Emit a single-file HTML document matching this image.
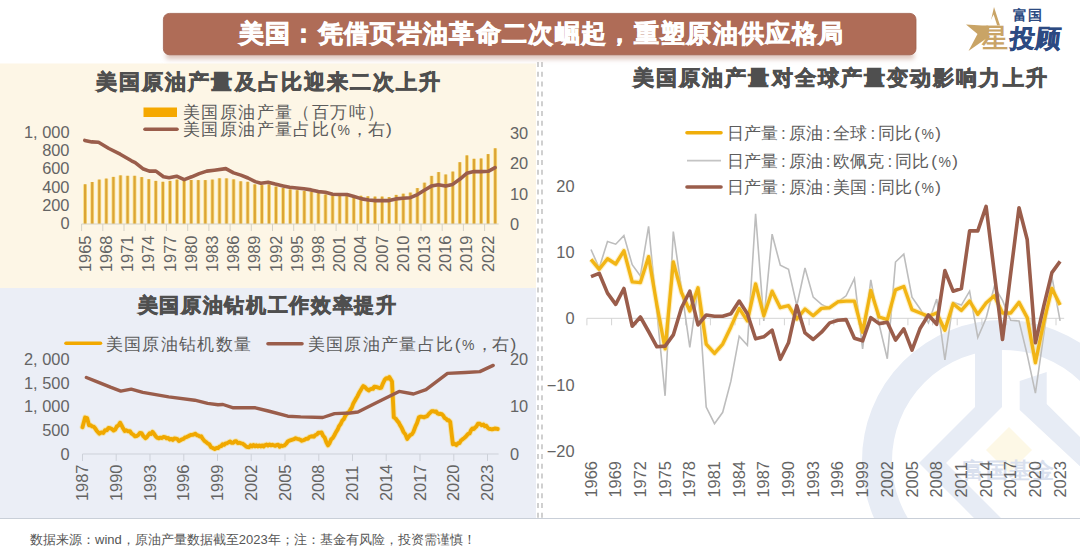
<!DOCTYPE html>
<html><head><meta charset="utf-8">
<style>
html,body{margin:0;padding:0;}
body{width:1080px;height:558px;overflow:hidden;position:relative;background:#fff;font-family:'Liberation Sans', sans-serif;}
.abs{position:absolute;}
svg text{font-family:'Liberation Sans', sans-serif;}
.ax{font-size:16.4px;fill:#646464;}
.ttl{font-size:21px;font-weight:700;fill:#4f4f4f;stroke:#4f4f4f;stroke-width:0.75px;letter-spacing:2.1px;}
.lg{font-size:17.4px;letter-spacing:1.4px;fill:#5c5c5c;}
.lg3{font-size:17px;fill:#5c5c5c;}
</style></head><body>
<svg class="abs" style="left:0;top:0" width="1080" height="558" viewBox="0 0 1080 558">
<defs>
<linearGradient id="hdrsh" x1="0" y1="0" x2="0" y2="1">
<stop offset="0" stop-color="#f3d9cf"/><stop offset="1" stop-color="#fff" stop-opacity="0"/>
</linearGradient>
<filter id="blur3" x="-5%" y="-200%" width="110%" height="500%"><feGaussianBlur stdDeviation="2.5"/></filter>
</defs>
<rect x="0" y="63.5" width="536" height="224.5" fill="#fdf6e6"/>
<rect x="0" y="288" width="536" height="230" fill="#ebeef6"/>
<line x1="0" y1="518.5" x2="1080" y2="518.5" stroke="#c9cfd8" stroke-width="1"/>
<line x1="538" y1="62" x2="538" y2="518" stroke="#a9a9a9" stroke-width="1.1" stroke-dasharray="5,4.8"/>
<line x1="542" y1="62" x2="542" y2="518" stroke="#a9a9a9" stroke-width="1.1" stroke-dasharray="5,4.8"/>
<!-- watermark -->
<clipPath id="wm"><rect x="541" y="62" width="539" height="456"/></clipPath>
<g clip-path="url(#wm)" fill="#e7ecf5">
<circle cx="1003" cy="461" r="126" fill="none" stroke="#e7ecf5" stroke-width="30"/>
<polygon points="975,330 1002,330 1002,407 946,463 1004,521 977,521 919,463 975,407"/>
<polygon points="1019.7,381 1046.7,372 1046.7,404 1100,457 1100,485 1019.7,410"/>
<polygon points="1009,427 1032,450 1009,473 986,450" fill="#fdf8e6"/>
<text x="963" y="478" style="font-size:22px;font-weight:700;fill:#d9e0ee;letter-spacing:1px;">富国基金</text>
</g>
<!-- header bar -->
<rect x="166" y="52" width="748" height="7" fill="#dcc3ba" filter="url(#blur3)"/>
<rect x="163.4" y="13.4" width="752.6" height="41.4" rx="6" fill="#af6c57" stroke="#a0604c" stroke-width="0.8"/>
<text x="238.5" y="42.3" style="font-size:24.6px;font-weight:700;fill:#fff;stroke:#fff;stroke-width:0.8px;letter-spacing:1.35px;">美国：凭借页岩油革命二次崛起，重塑原油供应格局</text>
<!-- logo -->
<polygon points="994,7 1000,25.5 982,25.5 966,24.5 977.5,34 968.5,51 987,38" fill="#c9a466"/>
<polygon points="993.6,14.5 988,25.6 997.2,25.6" fill="#fff"/>
<text x="981.5" y="46.8" style="font-size:25.5px;font-weight:700;fill:#c9a466;">星</text>
<text x="1012.5" y="20.3" style="font-size:14px;font-weight:700;fill:#2c4a82;letter-spacing:1.5px;">富国</text>
<text transform="translate(1008.5,46.8) skewX(-7)" style="font-size:25px;font-weight:700;fill:#2c4a82;stroke:#2c4a82;stroke-width:0.5px;letter-spacing:1.5px;">投顾</text>
<!-- titles -->
<text x="96" y="88.6" class="ttl">美国原油产量及占比迎来二次上升</text>
<text x="137.5" y="312.3" class="ttl" style="font-size:20px;letter-spacing:1.7px">美国原油钻机工作效率提升</text>
<text x="633" y="85" class="ttl">美国原油产量对全球产量变动影响力上升</text>
<!-- legend 1 -->
<rect x="143.5" y="107.5" width="33.5" height="9.5" fill="#f5a800"/>
<line x1="145" y1="129.3" x2="177" y2="129.3" stroke="#9a5d4b" stroke-width="3.6" stroke-linecap="round"/>
<text x="183" y="117.8" class="lg">美国原油产量（百万吨）</text>
<text x="183" y="135.3" class="lg">美国原油产量占比(<tspan style="font-size:14px">%</tspan>，<tspan dx="-2">右</tspan>)</text>
<!-- legend 2 -->
<line x1="66" y1="343.3" x2="100.5" y2="343.3" stroke="#f2a900" stroke-width="3.6" stroke-linecap="round"/>
<text x="105.5" y="349.5" class="lg">美国原油钻机数量</text>
<line x1="268" y1="343.8" x2="302" y2="343.8" stroke="#9a5d4b" stroke-width="3.6" stroke-linecap="round"/>
<text x="307.5" y="349.5" class="lg">美国原油产量占比(<tspan style="font-size:14px">%</tspan>，<tspan dx="-2">右</tspan>)</text>
<!-- legend 3 -->
<line x1="687" y1="132.8" x2="721" y2="132.8" stroke="#f0ae0a" stroke-width="3.6" stroke-linecap="round"/>
<line x1="687" y1="160.6" x2="721" y2="160.6" stroke="#c4c4c4" stroke-width="1.6"/>
<line x1="687" y1="187" x2="721" y2="187" stroke="#9a5d4b" stroke-width="3.6" stroke-linecap="round"/>
<text x="727" y="139" class="lg3">日产量<tspan dx="3">:</tspan><tspan dx="3">原油</tspan><tspan dx="3">:</tspan><tspan dx="3">全球</tspan><tspan dx="3">:</tspan><tspan dx="3">同比</tspan><tspan dx="2">(</tspan><tspan dx="1.5" style="font-size:14px">%</tspan><tspan dx="1.5">)</tspan></text>
<text x="727" y="166.5" class="lg3">日产量<tspan dx="3">:</tspan><tspan dx="3">原油</tspan><tspan dx="3">:</tspan><tspan dx="3">欧佩克</tspan><tspan dx="3">:</tspan><tspan dx="3">同比</tspan><tspan dx="2">(</tspan><tspan dx="1.5" style="font-size:14px">%</tspan><tspan dx="1.5">)</tspan></text>
<text x="727" y="193" class="lg3">日产量<tspan dx="3">:</tspan><tspan dx="3">原油</tspan><tspan dx="3">:</tspan><tspan dx="3">美国</tspan><tspan dx="3">:</tspan><tspan dx="3">同比</tspan><tspan dx="2">(</tspan><tspan dx="1.5" style="font-size:14px">%</tspan><tspan dx="1.5">)</tspan></text>
<rect x="83.2" y="184.3" width="3.8" height="39.7" fill="#f7dd80"/>
<rect x="84" y="184.3" width="2.2" height="39.7" fill="#dca436"/>
<rect x="90.3" y="182" width="3.8" height="42" fill="#f7dd80"/>
<rect x="91.1" y="182" width="2.2" height="42" fill="#dca436"/>
<rect x="97.4" y="179.6" width="3.8" height="44.4" fill="#f7dd80"/>
<rect x="98.2" y="179.6" width="2.2" height="44.4" fill="#dca436"/>
<rect x="104.4" y="178.6" width="3.8" height="45.4" fill="#f7dd80"/>
<rect x="105.2" y="178.6" width="2.2" height="45.4" fill="#dca436"/>
<rect x="111.5" y="176.9" width="3.8" height="47.1" fill="#f7dd80"/>
<rect x="112.3" y="176.9" width="2.2" height="47.1" fill="#dca436"/>
<rect x="118.6" y="175.4" width="3.8" height="48.6" fill="#f7dd80"/>
<rect x="119.4" y="175.4" width="2.2" height="48.6" fill="#dca436"/>
<rect x="125.7" y="175.8" width="3.8" height="48.2" fill="#f7dd80"/>
<rect x="126.5" y="175.8" width="2.2" height="48.2" fill="#dca436"/>
<rect x="132.7" y="175.8" width="3.8" height="48.2" fill="#f7dd80"/>
<rect x="133.5" y="175.8" width="2.2" height="48.2" fill="#dca436"/>
<rect x="139.8" y="177.1" width="3.8" height="46.9" fill="#f7dd80"/>
<rect x="140.6" y="177.1" width="2.2" height="46.9" fill="#dca436"/>
<rect x="146.9" y="179.2" width="3.8" height="44.8" fill="#f7dd80"/>
<rect x="147.7" y="179.2" width="2.2" height="44.8" fill="#dca436"/>
<rect x="153.9" y="180.9" width="3.8" height="43.1" fill="#f7dd80"/>
<rect x="154.7" y="180.9" width="2.2" height="43.1" fill="#dca436"/>
<rect x="161" y="181.8" width="3.8" height="42.2" fill="#f7dd80"/>
<rect x="161.8" y="181.8" width="2.2" height="42.2" fill="#dca436"/>
<rect x="168.1" y="180.9" width="3.8" height="43.1" fill="#f7dd80"/>
<rect x="168.9" y="180.9" width="2.2" height="43.1" fill="#dca436"/>
<rect x="175.1" y="179.6" width="3.8" height="44.4" fill="#f7dd80"/>
<rect x="175.9" y="179.6" width="2.2" height="44.4" fill="#dca436"/>
<rect x="182.2" y="180.5" width="3.8" height="43.5" fill="#f7dd80"/>
<rect x="183" y="180.5" width="2.2" height="43.5" fill="#dca436"/>
<rect x="189.3" y="180" width="3.8" height="44" fill="#f7dd80"/>
<rect x="190.1" y="180" width="2.2" height="44" fill="#dca436"/>
<rect x="196.4" y="180.1" width="3.8" height="43.9" fill="#f7dd80"/>
<rect x="197.2" y="180.1" width="2.2" height="43.9" fill="#dca436"/>
<rect x="203.4" y="180.1" width="3.8" height="43.9" fill="#f7dd80"/>
<rect x="204.2" y="180.1" width="2.2" height="43.9" fill="#dca436"/>
<rect x="210.5" y="179.6" width="3.8" height="44.4" fill="#f7dd80"/>
<rect x="211.3" y="179.6" width="2.2" height="44.4" fill="#dca436"/>
<rect x="217.6" y="178.3" width="3.8" height="45.7" fill="#f7dd80"/>
<rect x="218.4" y="178.3" width="2.2" height="45.7" fill="#dca436"/>
<rect x="224.6" y="178.4" width="3.8" height="45.6" fill="#f7dd80"/>
<rect x="225.4" y="178.4" width="2.2" height="45.6" fill="#dca436"/>
<rect x="231.7" y="179.4" width="3.8" height="44.6" fill="#f7dd80"/>
<rect x="232.5" y="179.4" width="2.2" height="44.6" fill="#dca436"/>
<rect x="238.8" y="181.3" width="3.8" height="42.7" fill="#f7dd80"/>
<rect x="239.6" y="181.3" width="2.2" height="42.7" fill="#dca436"/>
<rect x="245.8" y="181.8" width="3.8" height="42.2" fill="#f7dd80"/>
<rect x="246.6" y="181.8" width="2.2" height="42.2" fill="#dca436"/>
<rect x="252.9" y="184.4" width="3.8" height="39.6" fill="#f7dd80"/>
<rect x="253.7" y="184.4" width="2.2" height="39.6" fill="#dca436"/>
<rect x="260" y="185.1" width="3.8" height="38.9" fill="#f7dd80"/>
<rect x="260.8" y="185.1" width="2.2" height="38.9" fill="#dca436"/>
<rect x="267.1" y="184.4" width="3.8" height="39.6" fill="#f7dd80"/>
<rect x="267.9" y="184.4" width="2.2" height="39.6" fill="#dca436"/>
<rect x="274.1" y="186.6" width="3.8" height="37.4" fill="#f7dd80"/>
<rect x="274.9" y="186.6" width="2.2" height="37.4" fill="#dca436"/>
<rect x="281.2" y="188" width="3.8" height="36" fill="#f7dd80"/>
<rect x="282" y="188" width="2.2" height="36" fill="#dca436"/>
<rect x="288.3" y="189.4" width="3.8" height="34.6" fill="#f7dd80"/>
<rect x="289.1" y="189.4" width="2.2" height="34.6" fill="#dca436"/>
<rect x="295.3" y="190.2" width="3.8" height="33.8" fill="#f7dd80"/>
<rect x="296.1" y="190.2" width="2.2" height="33.8" fill="#dca436"/>
<rect x="302.4" y="190.9" width="3.8" height="33.1" fill="#f7dd80"/>
<rect x="303.2" y="190.9" width="2.2" height="33.1" fill="#dca436"/>
<rect x="309.5" y="191.6" width="3.8" height="32.4" fill="#f7dd80"/>
<rect x="310.3" y="191.6" width="2.2" height="32.4" fill="#dca436"/>
<rect x="316.5" y="193" width="3.8" height="31" fill="#f7dd80"/>
<rect x="317.3" y="193" width="2.2" height="31" fill="#dca436"/>
<rect x="323.6" y="194.5" width="3.8" height="29.5" fill="#f7dd80"/>
<rect x="324.4" y="194.5" width="2.2" height="29.5" fill="#dca436"/>
<rect x="330.7" y="195.2" width="3.8" height="28.8" fill="#f7dd80"/>
<rect x="331.5" y="195.2" width="2.2" height="28.8" fill="#dca436"/>
<rect x="337.8" y="195.6" width="3.8" height="28.4" fill="#f7dd80"/>
<rect x="338.6" y="195.6" width="2.2" height="28.4" fill="#dca436"/>
<rect x="344.8" y="195.9" width="3.8" height="28.1" fill="#f7dd80"/>
<rect x="345.6" y="195.9" width="2.2" height="28.1" fill="#dca436"/>
<rect x="351.9" y="196.2" width="3.8" height="27.8" fill="#f7dd80"/>
<rect x="352.7" y="196.2" width="2.2" height="27.8" fill="#dca436"/>
<rect x="359" y="195.8" width="3.8" height="28.2" fill="#f7dd80"/>
<rect x="359.8" y="195.8" width="2.2" height="28.2" fill="#dca436"/>
<rect x="366" y="196.3" width="3.8" height="27.7" fill="#f7dd80"/>
<rect x="366.8" y="196.3" width="2.2" height="27.7" fill="#dca436"/>
<rect x="373.1" y="196.6" width="3.8" height="27.4" fill="#f7dd80"/>
<rect x="373.9" y="196.6" width="2.2" height="27.4" fill="#dca436"/>
<rect x="380.2" y="196.6" width="3.8" height="27.4" fill="#f7dd80"/>
<rect x="381" y="196.6" width="2.2" height="27.4" fill="#dca436"/>
<rect x="387.2" y="197.1" width="3.8" height="26.9" fill="#f7dd80"/>
<rect x="388" y="197.1" width="2.2" height="26.9" fill="#dca436"/>
<rect x="394.3" y="194.9" width="3.8" height="29.1" fill="#f7dd80"/>
<rect x="395.1" y="194.9" width="2.2" height="29.1" fill="#dca436"/>
<rect x="401.4" y="193.7" width="3.8" height="30.3" fill="#f7dd80"/>
<rect x="402.2" y="193.7" width="2.2" height="30.3" fill="#dca436"/>
<rect x="408.5" y="192.6" width="3.8" height="31.4" fill="#f7dd80"/>
<rect x="409.3" y="192.6" width="2.2" height="31.4" fill="#dca436"/>
<rect x="415.5" y="188.1" width="3.8" height="35.9" fill="#f7dd80"/>
<rect x="416.3" y="188.1" width="2.2" height="35.9" fill="#dca436"/>
<rect x="422.6" y="182.7" width="3.8" height="41.3" fill="#f7dd80"/>
<rect x="423.4" y="182.7" width="2.2" height="41.3" fill="#dca436"/>
<rect x="429.7" y="175.9" width="3.8" height="48.1" fill="#f7dd80"/>
<rect x="430.5" y="175.9" width="2.2" height="48.1" fill="#dca436"/>
<rect x="436.7" y="172.1" width="3.8" height="51.9" fill="#f7dd80"/>
<rect x="437.5" y="172.1" width="2.2" height="51.9" fill="#dca436"/>
<rect x="443.8" y="174.5" width="3.8" height="49.5" fill="#f7dd80"/>
<rect x="444.6" y="174.5" width="2.2" height="49.5" fill="#dca436"/>
<rect x="450.9" y="171.6" width="3.8" height="52.4" fill="#f7dd80"/>
<rect x="451.7" y="171.6" width="2.2" height="52.4" fill="#dca436"/>
<rect x="457.9" y="162.2" width="3.8" height="61.8" fill="#f7dd80"/>
<rect x="458.7" y="162.2" width="2.2" height="61.8" fill="#dca436"/>
<rect x="465" y="155.4" width="3.8" height="68.6" fill="#f7dd80"/>
<rect x="465.8" y="155.4" width="2.2" height="68.6" fill="#dca436"/>
<rect x="472.1" y="158.8" width="3.8" height="65.2" fill="#f7dd80"/>
<rect x="472.9" y="158.8" width="2.2" height="65.2" fill="#dca436"/>
<rect x="479.2" y="158.5" width="3.8" height="65.5" fill="#f7dd80"/>
<rect x="480" y="158.5" width="2.2" height="65.5" fill="#dca436"/>
<rect x="486.2" y="154.1" width="3.8" height="69.9" fill="#f7dd80"/>
<rect x="487" y="154.1" width="2.2" height="69.9" fill="#dca436"/>
<rect x="493.3" y="148.3" width="3.8" height="75.7" fill="#f7dd80"/>
<rect x="494.1" y="148.3" width="2.2" height="75.7" fill="#dca436"/>
<line x1="81.6" y1="224.0" x2="498.7" y2="224.0" stroke="#d6d2c6" stroke-width="1"/>
<line x1="81.6" y1="224.0" x2="81.6" y2="231.0" stroke="#d6d2c6" stroke-width="1"/>
<line x1="102.8" y1="224.0" x2="102.8" y2="231.0" stroke="#d6d2c6" stroke-width="1"/>
<line x1="124" y1="224.0" x2="124" y2="231.0" stroke="#d6d2c6" stroke-width="1"/>
<line x1="145.2" y1="224.0" x2="145.2" y2="231.0" stroke="#d6d2c6" stroke-width="1"/>
<line x1="166.4" y1="224.0" x2="166.4" y2="231.0" stroke="#d6d2c6" stroke-width="1"/>
<line x1="187.7" y1="224.0" x2="187.7" y2="231.0" stroke="#d6d2c6" stroke-width="1"/>
<line x1="208.9" y1="224.0" x2="208.9" y2="231.0" stroke="#d6d2c6" stroke-width="1"/>
<line x1="230.1" y1="224.0" x2="230.1" y2="231.0" stroke="#d6d2c6" stroke-width="1"/>
<line x1="251.3" y1="224.0" x2="251.3" y2="231.0" stroke="#d6d2c6" stroke-width="1"/>
<line x1="272.5" y1="224.0" x2="272.5" y2="231.0" stroke="#d6d2c6" stroke-width="1"/>
<line x1="293.7" y1="224.0" x2="293.7" y2="231.0" stroke="#d6d2c6" stroke-width="1"/>
<line x1="314.9" y1="224.0" x2="314.9" y2="231.0" stroke="#d6d2c6" stroke-width="1"/>
<line x1="336.1" y1="224.0" x2="336.1" y2="231.0" stroke="#d6d2c6" stroke-width="1"/>
<line x1="357.3" y1="224.0" x2="357.3" y2="231.0" stroke="#d6d2c6" stroke-width="1"/>
<line x1="378.5" y1="224.0" x2="378.5" y2="231.0" stroke="#d6d2c6" stroke-width="1"/>
<line x1="399.8" y1="224.0" x2="399.8" y2="231.0" stroke="#d6d2c6" stroke-width="1"/>
<line x1="421" y1="224.0" x2="421" y2="231.0" stroke="#d6d2c6" stroke-width="1"/>
<line x1="442.2" y1="224.0" x2="442.2" y2="231.0" stroke="#d6d2c6" stroke-width="1"/>
<line x1="463.4" y1="224.0" x2="463.4" y2="231.0" stroke="#d6d2c6" stroke-width="1"/>
<line x1="484.6" y1="224.0" x2="484.6" y2="231.0" stroke="#d6d2c6" stroke-width="1"/>
<path d="M84.8,140.4 L91.9,141.9 L98.5,142.3 L108.9,148.5 L120.2,154.2 L131.5,160.8 L135.2,162.6 L142.8,168.7 L149.3,171.1 L155.9,171.1 L163.5,176.8 L169.1,177.7 L176.6,176.2 L184.2,179.6 L191.7,176.8 L199.2,173.6 L206.8,171.1 L214.3,170.2 L225.8,168.6 L233.6,172.9 L240.8,175.1 L248,178 L255.2,181.6 L260.9,183.3 L268.1,182.3 L275.2,184.1 L283.1,185.9 L289.6,187.3 L296.7,188 L303.9,188.7 L311.1,189.9 L318.3,191.6 L325.4,192.3 L332.6,194.2 L339.8,194.5 L346.9,194.5 L354.1,196.6 L361.8,198.9 L368.6,200 L375.4,200.6 L382.2,200.6 L389.1,200.6 L395.9,198.9 L402.7,198.3 L410.3,197.7 L417.5,194.6 L424.3,190.3 L431.3,186.1 L438.4,184.7 L445.6,186.1 L452.6,184.4 L459.7,179.3 L466.7,173.3 L473.9,171.6 L481,171.6 L488.2,171.3 L495.1,167.7" fill="none" stroke="#9a5d4b" stroke-width="3.6" stroke-linejoin="round" stroke-linecap="round"/>
<text x="69.5" y="138" text-anchor="end" class="ax">1, 000</text>
<text x="69.5" y="156.2" text-anchor="end" class="ax">800</text>
<text x="69.5" y="174.4" text-anchor="end" class="ax">600</text>
<text x="69.5" y="192.6" text-anchor="end" class="ax">400</text>
<text x="69.5" y="210.8" text-anchor="end" class="ax">200</text>
<text x="69.5" y="229" text-anchor="end" class="ax">0</text>
<text x="510" y="139.1" class="ax">30</text>
<text x="510" y="169.4" class="ax">20</text>
<text x="510" y="199.7" class="ax">10</text>
<text x="510" y="230" class="ax">0</text>
<text transform="translate(90.6,272) rotate(-90)" class="ax">1965</text>
<text transform="translate(111.8,272) rotate(-90)" class="ax">1968</text>
<text transform="translate(133.1,272) rotate(-90)" class="ax">1971</text>
<text transform="translate(154.3,272) rotate(-90)" class="ax">1974</text>
<text transform="translate(175.5,272) rotate(-90)" class="ax">1977</text>
<text transform="translate(196.7,272) rotate(-90)" class="ax">1980</text>
<text transform="translate(217.9,272) rotate(-90)" class="ax">1983</text>
<text transform="translate(239.1,272) rotate(-90)" class="ax">1986</text>
<text transform="translate(260.3,272) rotate(-90)" class="ax">1989</text>
<text transform="translate(281.5,272) rotate(-90)" class="ax">1992</text>
<text transform="translate(302.7,272) rotate(-90)" class="ax">1995</text>
<text transform="translate(323.9,272) rotate(-90)" class="ax">1998</text>
<text transform="translate(345.2,272) rotate(-90)" class="ax">2001</text>
<text transform="translate(366.4,272) rotate(-90)" class="ax">2004</text>
<text transform="translate(387.6,272) rotate(-90)" class="ax">2007</text>
<text transform="translate(408.8,272) rotate(-90)" class="ax">2010</text>
<text transform="translate(430,272) rotate(-90)" class="ax">2013</text>
<text transform="translate(451.2,272) rotate(-90)" class="ax">2016</text>
<text transform="translate(472.4,272) rotate(-90)" class="ax">2019</text>
<text transform="translate(493.6,272) rotate(-90)" class="ax">2022</text>
<line x1="82.5" y1="454.0" x2="498.6" y2="454.0" stroke="#cdd1d9" stroke-width="1"/>
<line x1="82.5" y1="454.0" x2="82.5" y2="461.0" stroke="#cdd1d9" stroke-width="1"/>
<text transform="translate(88,501) rotate(-90)" class="ax">1987</text>
<line x1="116.2" y1="454.0" x2="116.2" y2="461.0" stroke="#cdd1d9" stroke-width="1"/>
<text transform="translate(121.8,501) rotate(-90)" class="ax">1990</text>
<line x1="150" y1="454.0" x2="150" y2="461.0" stroke="#cdd1d9" stroke-width="1"/>
<text transform="translate(155.5,501) rotate(-90)" class="ax">1993</text>
<line x1="183.8" y1="454.0" x2="183.8" y2="461.0" stroke="#cdd1d9" stroke-width="1"/>
<text transform="translate(189.2,501) rotate(-90)" class="ax">1996</text>
<line x1="217.5" y1="454.0" x2="217.5" y2="461.0" stroke="#cdd1d9" stroke-width="1"/>
<text transform="translate(223,501) rotate(-90)" class="ax">1999</text>
<line x1="251.2" y1="454.0" x2="251.2" y2="461.0" stroke="#cdd1d9" stroke-width="1"/>
<text transform="translate(256.8,501) rotate(-90)" class="ax">2002</text>
<line x1="285" y1="454.0" x2="285" y2="461.0" stroke="#cdd1d9" stroke-width="1"/>
<text transform="translate(290.5,501) rotate(-90)" class="ax">2005</text>
<line x1="318.8" y1="454.0" x2="318.8" y2="461.0" stroke="#cdd1d9" stroke-width="1"/>
<text transform="translate(324.2,501) rotate(-90)" class="ax">2008</text>
<line x1="352.5" y1="454.0" x2="352.5" y2="461.0" stroke="#cdd1d9" stroke-width="1"/>
<text transform="translate(358,501) rotate(-90)" class="ax">2011</text>
<line x1="386.2" y1="454.0" x2="386.2" y2="461.0" stroke="#cdd1d9" stroke-width="1"/>
<text transform="translate(391.8,501) rotate(-90)" class="ax">2014</text>
<line x1="420" y1="454.0" x2="420" y2="461.0" stroke="#cdd1d9" stroke-width="1"/>
<text transform="translate(425.5,501) rotate(-90)" class="ax">2017</text>
<line x1="453.8" y1="454.0" x2="453.8" y2="461.0" stroke="#cdd1d9" stroke-width="1"/>
<text transform="translate(459.2,501) rotate(-90)" class="ax">2020</text>
<line x1="487.5" y1="454.0" x2="487.5" y2="461.0" stroke="#cdd1d9" stroke-width="1"/>
<text transform="translate(493,501) rotate(-90)" class="ax">2023</text>
<path d="M82.5,427.2 L85.1,417.5 L87.1,418.1 L89,425.3 L90.5,425.2 L92.1,426.3 L93.6,426.6 L95,428.1 L96.5,430.4 L98,432.2 L99.4,433.7 L101.3,432.4 L103.3,433 L105,430.2 L106.8,430.3 L108.5,427.9 L110.2,428.2 L111.9,429 L113.6,430.5 L115.2,429.6 L116.8,426.5 L118.5,425.4 L120.1,422.7 L121.6,425.4 L123.2,428.6 L124.7,431.1 L126.4,430.3 L128.2,431.4 L129.9,431.1 L131.6,433.6 L133.3,434.6 L135,436.3 L136.6,436 L138.2,435.1 L139.9,432.9 L141.5,433.1 L143.4,436.2 L145.4,438.2 L146.8,437.1 L148.2,435.2 L149.7,433.3 L151.1,433.9 L152.5,431.8 L154,433.7 L155.6,436.1 L157.1,437.6 L158.7,438.3 L160.3,437.7 L162,438 L163.6,436.9 L165.1,437.1 L166.7,438.4 L168.2,438 L169.8,439.5 L171.3,438.9 L172.8,440 L174.3,438.4 L175.9,438.7 L177.4,439.1 L178.9,441 L180.4,440.2 L182,439.3 L183.5,438.9 L185.1,437.4 L186.6,437.1 L188.2,436.3 L189.6,435.5 L191,434.9 L192.5,434.9 L193.9,434.4 L195.3,433.7 L196.8,435.2 L198.2,435.4 L199.7,436.6 L201.2,436.3 L202.8,438.9 L204.4,440.9 L206,442 L207.6,443.4 L209.3,444.2 L211.1,447.3 L212.8,448 L214.7,449 L216.5,448 L218,448.1 L219.5,446.6 L221.1,446.2 L222.6,444.3 L224.1,444.9 L225.6,443.4 L227.1,443.2 L228.6,442.3 L230.1,441.5 L231.6,442.9 L233.1,442.9 L234.6,441.5 L236.2,441.1 L237.8,443.1 L239.5,442.7 L241.1,443.4 L242.8,443.7 L244.6,445.1 L246.3,446.7 L247.7,447.1 L249.2,447.2 L250.6,445.3 L252.1,446.4 L253.5,445 L255,446.3 L256.4,445.3 L257.9,446.4 L259.3,445.4 L260.8,446.5 L262.2,445.4 L263.6,446.5 L265.1,445 L266.6,444.5 L268,445.6 L269.4,444.4 L270.9,445.4 L272.4,444.8 L273.8,445.3 L275.3,445.9 L276.8,444.9 L278.2,444.8 L279.7,446.7 L281.1,445.5 L282.6,446 L284.3,445.5 L286.1,443.9 L287.8,441.5 L289.4,440.6 L290.9,440.1 L292.5,439.6 L294,439.2 L295.6,438.2 L297.1,438.8 L298.7,439.1 L300.2,439.7 L301.8,440.8 L303.3,440.2 L304.8,439.6 L306.3,438.7 L307.9,438.7 L309.4,437 L310.9,436.5 L312.4,436.3 L313.9,436.7 L315.4,435 L316.9,434.5 L318.5,432.6 L320,432.9 L321.5,432.4 L323.1,435.8 L324.8,437.8 L326.4,442.4 L328,445.4 L329.6,443.1 L331.2,439.2 L332.9,437.9 L334.5,435 L336,432.1 L337.6,429.7 L339.1,426.1 L340.7,424 L342.2,420.7 L343.9,419 L345.6,415.3 L347.3,413.2 L349,412 L350.4,409.7 L351.8,407.6 L353.3,403.4 L354.7,401.1 L356.1,398.5 L357.5,396.2 L359,393.1 L360.4,390.7 L361.9,388.1 L363.3,386 L365.1,387.2 L366.9,389.2 L368.7,390.5 L370.1,389.3 L371.5,388.8 L373,388.9 L374.4,386.6 L375.8,386.9 L377.6,387.4 L379.4,388 L381.2,387.8 L383,383.3 L384.8,379.7 L386.3,378.2 L387.8,378.6 L389.3,377 L392,381.5 L393.8,417.3 L395.6,418.5 L397.3,420.9 L398.8,422.6 L400.3,425.6 L401.8,428.1 L403.6,432.1 L405.4,434.4 L407.2,438.9 L408.8,436.7 L410.4,434.9 L411.9,434.2 L413.5,431.7 L415.3,426.8 L417.1,422.9 L418.9,417.3 L420.7,416.6 L422.4,416.9 L424.2,417.3 L425.7,416.6 L427.2,416.1 L428.7,414.1 L430.2,412.6 L431.7,411.3 L433.2,411.1 L434.6,411.7 L436.1,411.5 L437.5,413.4 L439,414 L440.4,413.8 L441.8,414.2 L443.2,415.6 L444.6,417.9 L446,418.7 L447.4,420.2 L448.8,420.3 L450.2,421.8 L452.9,444.2 L454.7,443.8 L456.5,445.1 L458,443.3 L459.5,443.1 L460.9,440.6 L462.4,439.4 L463.9,438.3 L465.4,437.1 L466.8,435.4 L468.2,433.9 L469.6,433.5 L471,430.3 L472.4,428.5 L473.8,429.1 L475.2,427.4 L476.6,426.2 L478,423.6 L479.8,423.8 L481.6,425.2 L483.4,424.5 L484.8,426.3 L486.2,425.7 L487.7,427.7 L489.1,428.8 L490.5,429 L491.9,429.4 L493.4,429 L494.8,428.5 L496.3,428.7 L497.7,429" fill="none" stroke="#f8dc7a" stroke-width="5.8" stroke-opacity="0.55" stroke-linejoin="round" stroke-linecap="round"/>
<path d="M82.5,427.2 L85.1,417.5 L87.1,418.1 L89,425.3 L90.5,425.2 L92.1,426.3 L93.6,426.6 L95,428.1 L96.5,430.4 L98,432.2 L99.4,433.7 L101.3,432.4 L103.3,433 L105,430.2 L106.8,430.3 L108.5,427.9 L110.2,428.2 L111.9,429 L113.6,430.5 L115.2,429.6 L116.8,426.5 L118.5,425.4 L120.1,422.7 L121.6,425.4 L123.2,428.6 L124.7,431.1 L126.4,430.3 L128.2,431.4 L129.9,431.1 L131.6,433.6 L133.3,434.6 L135,436.3 L136.6,436 L138.2,435.1 L139.9,432.9 L141.5,433.1 L143.4,436.2 L145.4,438.2 L146.8,437.1 L148.2,435.2 L149.7,433.3 L151.1,433.9 L152.5,431.8 L154,433.7 L155.6,436.1 L157.1,437.6 L158.7,438.3 L160.3,437.7 L162,438 L163.6,436.9 L165.1,437.1 L166.7,438.4 L168.2,438 L169.8,439.5 L171.3,438.9 L172.8,440 L174.3,438.4 L175.9,438.7 L177.4,439.1 L178.9,441 L180.4,440.2 L182,439.3 L183.5,438.9 L185.1,437.4 L186.6,437.1 L188.2,436.3 L189.6,435.5 L191,434.9 L192.5,434.9 L193.9,434.4 L195.3,433.7 L196.8,435.2 L198.2,435.4 L199.7,436.6 L201.2,436.3 L202.8,438.9 L204.4,440.9 L206,442 L207.6,443.4 L209.3,444.2 L211.1,447.3 L212.8,448 L214.7,449 L216.5,448 L218,448.1 L219.5,446.6 L221.1,446.2 L222.6,444.3 L224.1,444.9 L225.6,443.4 L227.1,443.2 L228.6,442.3 L230.1,441.5 L231.6,442.9 L233.1,442.9 L234.6,441.5 L236.2,441.1 L237.8,443.1 L239.5,442.7 L241.1,443.4 L242.8,443.7 L244.6,445.1 L246.3,446.7 L247.7,447.1 L249.2,447.2 L250.6,445.3 L252.1,446.4 L253.5,445 L255,446.3 L256.4,445.3 L257.9,446.4 L259.3,445.4 L260.8,446.5 L262.2,445.4 L263.6,446.5 L265.1,445 L266.6,444.5 L268,445.6 L269.4,444.4 L270.9,445.4 L272.4,444.8 L273.8,445.3 L275.3,445.9 L276.8,444.9 L278.2,444.8 L279.7,446.7 L281.1,445.5 L282.6,446 L284.3,445.5 L286.1,443.9 L287.8,441.5 L289.4,440.6 L290.9,440.1 L292.5,439.6 L294,439.2 L295.6,438.2 L297.1,438.8 L298.7,439.1 L300.2,439.7 L301.8,440.8 L303.3,440.2 L304.8,439.6 L306.3,438.7 L307.9,438.7 L309.4,437 L310.9,436.5 L312.4,436.3 L313.9,436.7 L315.4,435 L316.9,434.5 L318.5,432.6 L320,432.9 L321.5,432.4 L323.1,435.8 L324.8,437.8 L326.4,442.4 L328,445.4 L329.6,443.1 L331.2,439.2 L332.9,437.9 L334.5,435 L336,432.1 L337.6,429.7 L339.1,426.1 L340.7,424 L342.2,420.7 L343.9,419 L345.6,415.3 L347.3,413.2 L349,412 L350.4,409.7 L351.8,407.6 L353.3,403.4 L354.7,401.1 L356.1,398.5 L357.5,396.2 L359,393.1 L360.4,390.7 L361.9,388.1 L363.3,386 L365.1,387.2 L366.9,389.2 L368.7,390.5 L370.1,389.3 L371.5,388.8 L373,388.9 L374.4,386.6 L375.8,386.9 L377.6,387.4 L379.4,388 L381.2,387.8 L383,383.3 L384.8,379.7 L386.3,378.2 L387.8,378.6 L389.3,377 L392,381.5 L393.8,417.3 L395.6,418.5 L397.3,420.9 L398.8,422.6 L400.3,425.6 L401.8,428.1 L403.6,432.1 L405.4,434.4 L407.2,438.9 L408.8,436.7 L410.4,434.9 L411.9,434.2 L413.5,431.7 L415.3,426.8 L417.1,422.9 L418.9,417.3 L420.7,416.6 L422.4,416.9 L424.2,417.3 L425.7,416.6 L427.2,416.1 L428.7,414.1 L430.2,412.6 L431.7,411.3 L433.2,411.1 L434.6,411.7 L436.1,411.5 L437.5,413.4 L439,414 L440.4,413.8 L441.8,414.2 L443.2,415.6 L444.6,417.9 L446,418.7 L447.4,420.2 L448.8,420.3 L450.2,421.8 L452.9,444.2 L454.7,443.8 L456.5,445.1 L458,443.3 L459.5,443.1 L460.9,440.6 L462.4,439.4 L463.9,438.3 L465.4,437.1 L466.8,435.4 L468.2,433.9 L469.6,433.5 L471,430.3 L472.4,428.5 L473.8,429.1 L475.2,427.4 L476.6,426.2 L478,423.6 L479.8,423.8 L481.6,425.2 L483.4,424.5 L484.8,426.3 L486.2,425.7 L487.7,427.7 L489.1,428.8 L490.5,429 L491.9,429.4 L493.4,429 L494.8,428.5 L496.3,428.7 L497.7,429" fill="none" stroke="#f0a800" stroke-width="3.9" stroke-linejoin="round" stroke-linecap="round"/>
<path d="M86.4,377.5 L96.1,381.4 L110.4,387.2 L120.8,391.1 L131.2,389.2 L142.8,392.4 L168.7,396.9 L194.7,400.2 L207.6,403.4 L218,404.7 L223,404.5 L233.3,407.8 L255.4,407.8 L268.3,411 L287.8,416.2 L300.7,416.9 L322.8,417.5 L334.5,413.6 L350,413 L357.9,412 L375.8,403 L399.1,391.4 L413.5,394 L426,389.6 L447.5,373.4 L465.4,372.5 L479.8,371.6 L493.2,365.4" fill="none" stroke="#9a5d4b" stroke-width="3.4" stroke-linejoin="round" stroke-linecap="round"/>
<text x="69.5" y="364.6" text-anchor="end" class="ax">2, 000</text>
<text x="69.5" y="388.5" text-anchor="end" class="ax">1, 500</text>
<text x="69.5" y="412.4" text-anchor="end" class="ax">1, 000</text>
<text x="69.5" y="436.3" text-anchor="end" class="ax">500</text>
<text x="69.5" y="460.2" text-anchor="end" class="ax">0</text>
<text x="510" y="364.6" class="ax">20</text>
<text x="510" y="412.3" class="ax">10</text>
<text x="510" y="460" class="ax">0</text>
<line x1="586.9" y1="318.3" x2="1064.2" y2="318.3" stroke="#d4d4d4" stroke-width="1"/>
<line x1="586.9" y1="318.3" x2="586.9" y2="325.3" stroke="#d4d4d4" stroke-width="1"/>
<line x1="611.6" y1="318.3" x2="611.6" y2="325.3" stroke="#d4d4d4" stroke-width="1"/>
<line x1="636.3" y1="318.3" x2="636.3" y2="325.3" stroke="#d4d4d4" stroke-width="1"/>
<line x1="661" y1="318.3" x2="661" y2="325.3" stroke="#d4d4d4" stroke-width="1"/>
<line x1="685.7" y1="318.3" x2="685.7" y2="325.3" stroke="#d4d4d4" stroke-width="1"/>
<line x1="710.4" y1="318.3" x2="710.4" y2="325.3" stroke="#d4d4d4" stroke-width="1"/>
<line x1="735" y1="318.3" x2="735" y2="325.3" stroke="#d4d4d4" stroke-width="1"/>
<line x1="759.7" y1="318.3" x2="759.7" y2="325.3" stroke="#d4d4d4" stroke-width="1"/>
<line x1="784.4" y1="318.3" x2="784.4" y2="325.3" stroke="#d4d4d4" stroke-width="1"/>
<line x1="809.1" y1="318.3" x2="809.1" y2="325.3" stroke="#d4d4d4" stroke-width="1"/>
<line x1="833.8" y1="318.3" x2="833.8" y2="325.3" stroke="#d4d4d4" stroke-width="1"/>
<line x1="858.5" y1="318.3" x2="858.5" y2="325.3" stroke="#d4d4d4" stroke-width="1"/>
<line x1="883.2" y1="318.3" x2="883.2" y2="325.3" stroke="#d4d4d4" stroke-width="1"/>
<line x1="907.9" y1="318.3" x2="907.9" y2="325.3" stroke="#d4d4d4" stroke-width="1"/>
<line x1="932.6" y1="318.3" x2="932.6" y2="325.3" stroke="#d4d4d4" stroke-width="1"/>
<line x1="957.2" y1="318.3" x2="957.2" y2="325.3" stroke="#d4d4d4" stroke-width="1"/>
<line x1="981.9" y1="318.3" x2="981.9" y2="325.3" stroke="#d4d4d4" stroke-width="1"/>
<line x1="1006.6" y1="318.3" x2="1006.6" y2="325.3" stroke="#d4d4d4" stroke-width="1"/>
<line x1="1031.3" y1="318.3" x2="1031.3" y2="325.3" stroke="#d4d4d4" stroke-width="1"/>
<line x1="1056" y1="318.3" x2="1056" y2="325.3" stroke="#d4d4d4" stroke-width="1"/>
<path d="M591,249.5 L599.2,268 L607.5,241.5 L615.7,244.2 L623.9,235.6 L632.2,264.7 L640.4,275.9 L648.6,226.3 L656.9,311.7 L665.1,395.8 L673.3,231.6 L681.5,289.2 L689.8,347.4 L698,287.8 L706.2,407 L714.5,423.6 L722.7,412.3 L730.9,381.2 L739.2,336.2 L747.4,345.4 L755.6,213.7 L763.8,320.9 L772.1,234.2 L780.3,265.3 L788.5,269.3 L796.8,305.7 L805,268 L813.2,297.1 L821.5,304.4 L829.7,308.4 L837.9,301.8 L846.1,295.8 L854.4,278.6 L862.6,348.8 L870.8,279.9 L879.1,324.3 L887.3,358.7 L895.5,262 L903.8,254.1 L912,297.1 L920.2,309 L928.4,322.9 L936.7,299.1 L944.9,360 L953.1,302.4 L961.4,305.1 L969.6,291.2 L977.8,337.5 L986.1,318.3 L994.3,286.5 L1002.5,300.4 L1010.7,320.3 L1019,320.9 L1027.2,354.7 L1035.4,393.1 L1043.7,334.9 L1051.9,276.6 L1060.1,320.9" fill="none" stroke="#bdbdbd" stroke-width="1.6" stroke-linejoin="miter"/>
<path d="M591,259.4 L599.2,269.3 L607.5,258.7 L615.7,264 L623.9,250.8 L632.2,281.9 L640.4,282.6 L648.6,256.7 L656.9,305.1 L665.1,348.8 L673.3,262 L681.5,292.5 L689.8,311 L698,287.8 L706.2,344.1 L714.5,353.4 L722.7,344.1 L730.9,326.9 L739.2,308.4 L747.4,320.9 L755.6,283.9 L763.8,315.7 L772.1,291.2 L780.3,307.7 L788.5,305.7 L796.8,319 L805,309 L813.2,315.7 L821.5,308.4 L829.7,307.7 L837.9,301.8 L846.1,301.1 L854.4,301.1 L862.6,332.2 L870.8,290.5 L879.1,317 L887.3,319.6 L895.5,289.8 L903.8,286.5 L912,309.7 L920.2,313 L928.4,316.3 L936.7,313 L944.9,330.2 L953.1,303.7 L961.4,310.4 L969.6,301.1 L977.8,314.3 L986.1,303.1 L994.3,295.8 L1002.5,313 L1010.7,313 L1019,302.4 L1027.2,317.6 L1035.4,362.7 L1043.7,322.3 L1051.9,288.5 L1060.1,305.1" fill="none" stroke="#fbe08a" stroke-width="5.6" stroke-opacity="0.45" stroke-linejoin="round"/>
<path d="M591,259.4 L599.2,269.3 L607.5,258.7 L615.7,264 L623.9,250.8 L632.2,281.9 L640.4,282.6 L648.6,256.7 L656.9,305.1 L665.1,348.8 L673.3,262 L681.5,292.5 L689.8,311 L698,287.8 L706.2,344.1 L714.5,353.4 L722.7,344.1 L730.9,326.9 L739.2,308.4 L747.4,320.9 L755.6,283.9 L763.8,315.7 L772.1,291.2 L780.3,307.7 L788.5,305.7 L796.8,319 L805,309 L813.2,315.7 L821.5,308.4 L829.7,307.7 L837.9,301.8 L846.1,301.1 L854.4,301.1 L862.6,332.2 L870.8,290.5 L879.1,317 L887.3,319.6 L895.5,289.8 L903.8,286.5 L912,309.7 L920.2,313 L928.4,316.3 L936.7,313 L944.9,330.2 L953.1,303.7 L961.4,310.4 L969.6,301.1 L977.8,314.3 L986.1,303.1 L994.3,295.8 L1002.5,313 L1010.7,313 L1019,302.4 L1027.2,317.6 L1035.4,362.7 L1043.7,322.3 L1051.9,288.5 L1060.1,305.1" fill="none" stroke="#f1b005" stroke-width="3.4" stroke-linejoin="round" stroke-opacity="0.92"/>
<path d="M591,276.6 L599.2,273.3 L607.5,293.1 L615.7,304.4 L623.9,288.5 L632.2,326.2 L640.4,317 L648.6,331.5 L656.9,346.8 L665.1,346.1 L673.3,334.9 L681.5,307.7 L689.8,291.2 L698,324.9 L706.2,315 L714.5,316.3 L722.7,316.3 L730.9,313.7 L739.2,301.1 L747.4,313.7 L755.6,338.8 L763.8,336.8 L772.1,330.2 L780.3,359.3 L788.5,342.8 L796.8,305.7 L805,332.9 L813.2,339.5 L821.5,332.2 L829.7,322.9 L837.9,320.3 L846.1,319.6 L854.4,338.2 L862.6,340.8 L870.8,317.6 L879.1,323.6 L887.3,322.3 L895.5,340.1 L903.8,328.9 L912,350.1 L920.2,328.2 L928.4,315 L936.7,324.3 L944.9,270.6 L953.1,291.2 L961.4,288.5 L969.6,230.9 L977.8,230.9 L986.1,206.4 L994.3,272.6 L1002.5,339.5 L1010.7,273.3 L1019,207.7 L1027.2,239.5 L1035.4,342.8 L1043.7,306.4 L1051.9,272.6 L1060.1,261.4" fill="none" stroke="#9a5d4b" stroke-width="3.6" stroke-linejoin="round"/>
<text x="574.5" y="191.9" text-anchor="end" class="ax">20</text>
<text x="574.5" y="258.1" text-anchor="end" class="ax">10</text>
<text x="574.5" y="324.3" text-anchor="end" class="ax">0</text>
<text x="574.5" y="390.5" text-anchor="end" class="ax">−10</text>
<text x="574.5" y="456.7" text-anchor="end" class="ax">−20</text>
<text transform="translate(596.5,497.5) rotate(-90)" class="ax">1966</text>
<text transform="translate(621.2,497.5) rotate(-90)" class="ax">1969</text>
<text transform="translate(645.9,497.5) rotate(-90)" class="ax">1972</text>
<text transform="translate(670.6,497.5) rotate(-90)" class="ax">1975</text>
<text transform="translate(695.3,497.5) rotate(-90)" class="ax">1978</text>
<text transform="translate(720,497.5) rotate(-90)" class="ax">1981</text>
<text transform="translate(744.7,497.5) rotate(-90)" class="ax">1984</text>
<text transform="translate(769.3,497.5) rotate(-90)" class="ax">1987</text>
<text transform="translate(794,497.5) rotate(-90)" class="ax">1990</text>
<text transform="translate(818.7,497.5) rotate(-90)" class="ax">1993</text>
<text transform="translate(843.4,497.5) rotate(-90)" class="ax">1996</text>
<text transform="translate(868.1,497.5) rotate(-90)" class="ax">1999</text>
<text transform="translate(892.8,497.5) rotate(-90)" class="ax">2002</text>
<text transform="translate(917.5,497.5) rotate(-90)" class="ax">2005</text>
<text transform="translate(942.2,497.5) rotate(-90)" class="ax">2008</text>
<text transform="translate(966.9,497.5) rotate(-90)" class="ax">2011</text>
<text transform="translate(991.6,497.5) rotate(-90)" class="ax">2014</text>
<text transform="translate(1016.2,497.5) rotate(-90)" class="ax">2017</text>
<text transform="translate(1040.9,497.5) rotate(-90)" class="ax">2020</text>
<text transform="translate(1065.6,497.5) rotate(-90)" class="ax">2023</text>
<text x="30" y="544" style="font-size:13px;fill:#555;">数据来源：wind，原油产量数据截至2023年；注：基金有风险，投资需谨慎！</text>
</svg>
</body></html>
